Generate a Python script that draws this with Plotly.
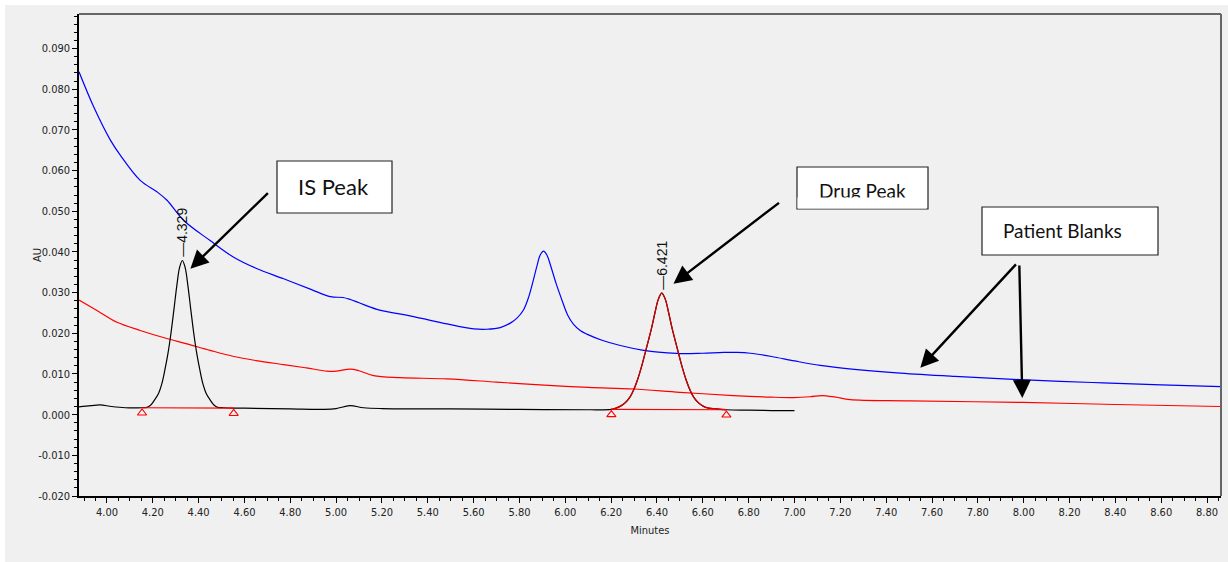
import numpy as np
import plotly.graph_objects as go

# ---------------- data ----------------
# Patient blank 1 (blue)
blank1_t = [3.878, 3.942, 4.015, 4.058, 4.145, 4.218, 4.262, 4.334, 4.45, 4.553, 4.65, 4.771,
            4.89, 4.975, 5.03, 5.062, 5.10, 5.178, 5.338, 5.484, 5.60, 5.657, 5.716, 5.760,
            5.79, 5.818, 5.840, 5.858, 5.876, 5.890, 5.905, 5.920, 5.935, 5.960, 5.985, 6.010,
            6.036, 6.065, 6.094, 6.16, 6.240, 6.342, 6.42, 6.502, 6.60, 6.691, 6.749, 6.807,
            6.90, 7.00, 7.112, 7.25, 7.462, 7.70, 7.985, 8.30, 8.60, 8.861]
blank1_au = [0.0843, 0.0757, 0.0675, 0.0638, 0.0576, 0.0548, 0.0527, 0.0478, 0.0428, 0.0387, 0.0360, 0.0334,
             0.0308, 0.0290, 0.0288, 0.0283, 0.0275, 0.0259, 0.0241, 0.0223, 0.0211, 0.0210, 0.0214, 0.0225,
             0.0238, 0.0258, 0.0289, 0.0325, 0.0365, 0.0392, 0.0402, 0.0392, 0.0368, 0.0322, 0.0282, 0.0245,
             0.0222, 0.0207, 0.0198, 0.0183, 0.0170, 0.0158, 0.0153, 0.0150, 0.0151, 0.0153, 0.0153, 0.0151,
             0.0143, 0.0132, 0.0121, 0.0112, 0.0102, 0.0094, 0.0086, 0.0079, 0.0073, 0.0069]

# Patient blank 2 (red)
blank2_t = [3.878, 3.96, 4.044, 4.145, 4.25, 4.349, 4.45, 4.553, 4.65, 4.771, 4.87, 4.960, 5.00,
            5.062, 5.10, 5.163, 5.280, 5.484, 5.70, 5.89, 6.10, 6.297, 6.50, 6.733, 6.90, 6.995,
            7.068, 7.12, 7.18, 7.243, 7.50, 7.998, 8.40, 8.858]
blank2_au = [0.0282, 0.0255, 0.0227, 0.0207, 0.0189, 0.0174, 0.0158, 0.0143, 0.0133, 0.0123, 0.0115, 0.0107, 0.0107,
             0.0112, 0.0108, 0.0096, 0.0091, 0.0088, 0.0080, 0.0073, 0.0067, 0.0063, 0.0055, 0.0047, 0.0043, 0.0042,
             0.0044, 0.0047, 0.0043, 0.0037, 0.0034, 0.0030, 0.0025, 0.0020]

# Spiked sample (black) with IS and drug peaks
sample_t = [3.878, 3.93, 3.97, 4.02, 4.08, 4.153, 4.175, 4.19, 4.205, 4.225, 4.239, 4.252, 4.266,
            4.279, 4.293, 4.305, 4.317, 4.329, 4.341, 4.353, 4.365, 4.379, 4.392, 4.406, 4.419,
            4.433, 4.453, 4.468, 4.483, 4.51, 4.553, 4.60, 4.80, 4.95, 5.00, 5.06, 5.12,
            5.20, 5.50, 5.80, 6.10, 6.201, 6.221, 6.241, 6.261, 6.282, 6.296, 6.314, 6.336, 6.355,
            6.376, 6.391, 6.406, 6.421, 6.436, 6.451, 6.466, 6.487, 6.506, 6.528, 6.546, 6.560,
            6.581, 6.601, 6.625, 6.660, 6.703, 6.80, 6.90, 7.00]
sample_au = [0.0019, 0.0022, 0.0024, 0.0020, 0.0017, 0.0017, 0.0018, 0.0023, 0.0034, 0.0052, 0.0075, 0.0108, 0.0150,
             0.0199, 0.0262, 0.0318, 0.0362, 0.0379, 0.0362, 0.0318, 0.0262, 0.0199, 0.0150, 0.0108, 0.0075,
             0.0052, 0.0034, 0.0023, 0.0018, 0.0017, 0.0016, 0.0016, 0.0014, 0.0013, 0.0015, 0.0022, 0.0017,
             0.0015, 0.0014, 0.0013, 0.0012, 0.0013, 0.0016, 0.0021, 0.0029, 0.0043, 0.0058, 0.0084, 0.0125, 0.0166,
             0.0212, 0.0250, 0.0284, 0.0299, 0.0284, 0.0250, 0.0212, 0.0166, 0.0125, 0.0084, 0.0058, 0.0043,
             0.0029, 0.0021, 0.0016, 0.0014, 0.0012, 0.0011, 0.0010, 0.0010]

# Integrated peaks
peak_rt = [4.329, 6.421]
peak_height = [0.0379, 0.0299]
peak_labels = ["4.329", "6.421"]
peak_start = [4.153, 6.201]
peak_end = [4.553, 6.703]
peak_base_start = [0.0017, 0.0013]
peak_base_end = [0.0016, 0.0012]

x_tick_vals = [4.00, 4.20, 4.40, 4.60, 4.80, 5.00, 5.20, 5.40, 5.60, 5.80, 6.00, 6.20, 6.40,
               6.60, 6.80, 7.00, 7.20, 7.40, 7.60, 7.80, 8.00, 8.20, 8.40, 8.60, 8.80]
x_tick_text = ["4.00", "4.20", "4.40", "4.60", "4.80", "5.00", "5.20", "5.40", "5.60", "5.80", "6.00",
               "6.20", "6.40", "6.60", "6.80", "7.00", "7.20", "7.40", "7.60", "7.80", "8.00", "8.20",
               "8.40", "8.60", "8.80"]
y_tick_vals = [-0.020, -0.010, 0.000, 0.010, 0.020, 0.030, 0.040, 0.050, 0.060, 0.070, 0.080, 0.090]
y_tick_text = ["-0.020", "-0.010", "0.000", "0.010", "0.020", "0.030", "0.040", "0.050", "0.060",
               "0.070", "0.080", "0.090"]

# ---------------- figure ----------------
X_RANGE = [3.878, 8.861]
Y_RANGE = [-0.0200, 0.0985]
L, T, W, H = 79, 14, 1142, 482
FIG_W, FIG_H = 1228, 562

def paper(px, py):
    return (px - L) / W, (T + H - py) / H

AXIS_FAMILY = "DejaVu Sans Condensed, Liberation Sans Narrow, Arial Narrow, sans-serif"
TICK_FONT = dict(family=AXIS_FAMILY, size=11, color="#222")
BOX_FONT = "Lato, Carlito, Calibri, sans-serif"
LINE = dict(width=1.2, shape="spline", smoothing=1.0)

fig = go.Figure()

fig.add_trace(go.Scatter(x=blank1_t, y=blank1_au, mode="lines", line=dict(color="#0000ff", **LINE),
                         name="Patient blank 1", hoverinfo="skip"))
fig.add_trace(go.Scatter(x=blank2_t, y=blank2_au, mode="lines", line=dict(color="#ff0000", **LINE),
                         name="Patient blank 2", hoverinfo="skip"))
fig.add_trace(go.Scatter(x=sample_t, y=sample_au, mode="lines", line=dict(color="#000000", **LINE),
                         name="Sample", hoverinfo="skip"))

# drug peak segment highlighted in red
st = np.array(sample_t)
sa = np.array(sample_au)
seg = (st >= peak_start[1]) & (st <= peak_end[1])
fig.add_trace(go.Scatter(x=st[seg], y=sa[seg], mode="lines", line=dict(color="#d40000", width=1.3, shape="spline", smoothing=1.0),
                         name="Drug", hoverinfo="skip"))

# integration baselines and start/end markers
MARK_DROP = 0.0013
for s, e, bs, be in zip(peak_start, peak_end, peak_base_start, peak_base_end):
    fig.add_trace(go.Scatter(x=[s, e], y=[bs, be], mode="lines", line=dict(color="#ff0000", width=1.2), hoverinfo="skip"))
    fig.add_trace(go.Scatter(x=[s, e], y=[bs - MARK_DROP, be - MARK_DROP], mode="markers",
                             marker=dict(symbol="triangle-up-open", size=8, color="#ff0000", line=dict(width=1.1, color="#ff0000")),
                             hoverinfo="skip"))

annotations = []
# retention time labels
for rt, h, lab in zip(peak_rt, peak_height, peak_labels):
    annotations.append(dict(x=rt, y=h, xref="x", yref="y", text="\u2014" + lab, showarrow=False, textangle=-90,
                            font=dict(family="Liberation Sans, Arial", size=14, color="#111"),
                            xanchor="center", yanchor="middle", yshift=28))

# callout arrows: (tip x, tip y, tail dx px, tail dy px)
arrows = [(4.364, 0.0359, 79, -77), (6.472, 0.0322, 107, -82), (7.549, 0.0115, 97, -105), (7.994, 0.0041, -3, -134)]
for xa, ya, ax, ay in arrows:
    annotations.append(dict(x=xa, y=ya, xref="x", yref="y", ax=ax, ay=ay, axref="pixel", ayref="pixel",
                            text="", showarrow=True, arrowhead=2, arrowsize=1.5, arrowwidth=2.4, arrowcolor="#000"))

# y-axis title
pa = paper(37, 255)
annotations.append(dict(x=pa[0], y=pa[1], xref="paper", yref="paper", text="AU", showarrow=False, textangle=-90,
                        font=dict(family=AXIS_FAMILY, size=11, color="#222"), xanchor="center", yanchor="middle"))

shapes = []
# page panel
shapes.append(dict(type="rect", xref="paper", yref="paper", x0=paper(5, 0)[0], x1=1.2, y0=-0.3, y1=paper(0, 5)[1],
                   fillcolor="#f0f0f0", line=dict(width=0), layer="below"))
# frame top/right
shapes.append(dict(type="line", xref="paper", yref="paper", x0=0, x1=1, y0=1, y1=1, line=dict(color="#666", width=2)))
shapes.append(dict(type="line", xref="paper", yref="paper", x0=1, x1=1, y0=0, y1=1, line=dict(color="#666", width=2)))

# labelled boxes: (left, top, right, bottom px, text, text cx, text cy, size)
boxes = [(277, 161, 392, 213, "IS Peak", 333, 187, 22),
         (797, 167, 928, 209, "Drug Peak", 862, 190, 19),
         (982, 207, 1158, 255, "Patient Blanks", 1062, 231, 19)]
for x0, y0, x1, y1, txt, cx, cy, fs in boxes:
    p0 = paper(x0, y1)
    p1 = paper(x1, y0)
    shapes.append(dict(type="rect", xref="paper", yref="paper", x0=p0[0], y0=p0[1], x1=p1[0], y1=p1[1],
                       fillcolor="#ffffff", line=dict(color="#222", width=1.2)))
    pc = paper(cx, cy)
    annotations.append(dict(x=pc[0], y=pc[1], xref="paper", yref="paper", text=txt, showarrow=False,
                            font=dict(family=BOX_FONT, size=fs, color="#111"), xanchor="center", yanchor="middle"))

# the drug label box clips its text just above the lower edge
pc = paper(862, 203)
annotations.append(dict(x=pc[0], y=pc[1], xref="paper", yref="paper", text=" ", showarrow=False, bgcolor="#ffffff",
                        width=128, height=10, borderpad=0, xanchor="center", yanchor="middle"))

x_minor = np.round(np.arange(3.90, 8.861, 0.05), 2).tolist()
y_minor = np.round(np.arange(-0.020, 0.0985, 0.002), 3).tolist()

fig.update_layout(
    width=FIG_W, height=FIG_H,
    margin=dict(l=L, r=FIG_W - L - W, t=T, b=FIG_H - T - H),
    paper_bgcolor="#ffffff", plot_bgcolor="#f0f0f0",
    showlegend=False,
    shapes=shapes, annotations=annotations,
    xaxis=dict(range=X_RANGE, tickmode="array", tickvals=x_tick_vals, ticktext=x_tick_text,
               ticks="outside", ticklen=5, tickcolor="#000", tickwidth=1, tickfont=TICK_FONT,
               minor=dict(tickmode="array", tickvals=x_minor, ticks="outside", ticklen=3, tickcolor="#000"),
               showline=True, linecolor="#000", linewidth=1.5, showgrid=False, zeroline=False,
               title=dict(text="Minutes", font=dict(family=AXIS_FAMILY, size=11, color="#222"), standoff=8)),
    yaxis=dict(range=Y_RANGE, tickmode="array", tickvals=y_tick_vals, ticktext=y_tick_text,
               ticks="outside", ticklen=5, tickcolor="#000", tickwidth=1, tickfont=TICK_FONT,
               minor=dict(tickmode="array", tickvals=y_minor, ticks="outside", ticklen=3, tickcolor="#000"),
               showline=True, linecolor="#000", linewidth=1.5, showgrid=False, zeroline=False),
)

fig.write_html("out.html")
